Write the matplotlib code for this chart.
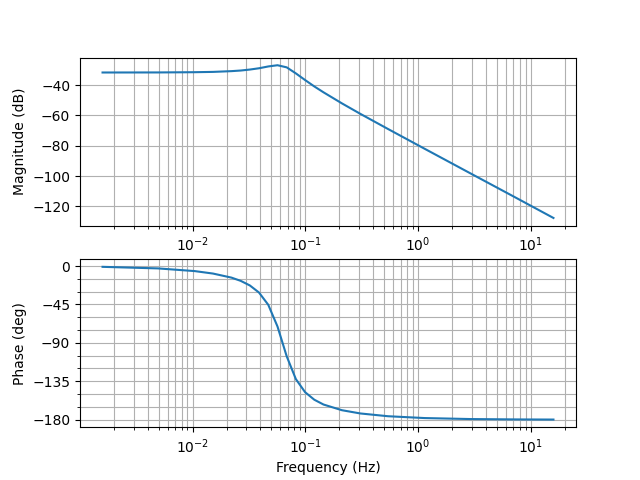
import numpy as np
import matplotlib
matplotlib.use('Agg')
import matplotlib.pyplot as plt
from matplotlib.ticker import MultipleLocator

# Frequency points (Hz)
freq_hz = [0.00159, 0.00492, 0.01043, 0.01517, 0.0221, 0.0267, 0.0322,
           0.0388, 0.0469, 0.0566, 0.0683, 0.0824, 0.0995, 0.1200,
           0.1449, 0.211, 0.307, 0.540, 1.143, 2.92, 7.48, 15.85]

# Magnitude (dB)
mag_db = [-31.6, -31.56, -31.4, -31.2, -30.7, -30.3, -29.65,
          -28.8, -27.6, -26.8, -28.2, -32.2, -36.6, -40.8,
          -44.7, -52.0, -58.9, -68.9, -82.0, -98.3, -114.6, -127.7]

# Phase (deg)
phase_deg = [-0.87, -2.7, -5.85, -8.75, -13.5, -17.3, -22.7,
             -31.0, -45.4, -70.8, -105.7, -132.5, -147.8, -156.6,
             -162.25, -168.9, -172.7, -175.95, -178.1, -179.26, -179.7, -179.86]

fig, (ax_mag, ax_ph) = plt.subplots(2, 1, figsize=(6.4, 4.8), dpi=100)

# Magnitude
ax_mag.semilogx(freq_hz, mag_db)
ax_mag.set_ylabel('Magnitude (dB)')
ax_mag.grid(True, which='both')

# Phase
ax_ph.semilogx(freq_hz, phase_deg)
ax_ph.set_ylabel('Phase (deg)')
ax_ph.set_xlabel('Frequency (Hz)')
ax_ph.yaxis.set_major_locator(MultipleLocator(45))
ax_ph.yaxis.set_minor_locator(MultipleLocator(15))
ax_ph.grid(True, which='both')

fig.savefig('out.png')
